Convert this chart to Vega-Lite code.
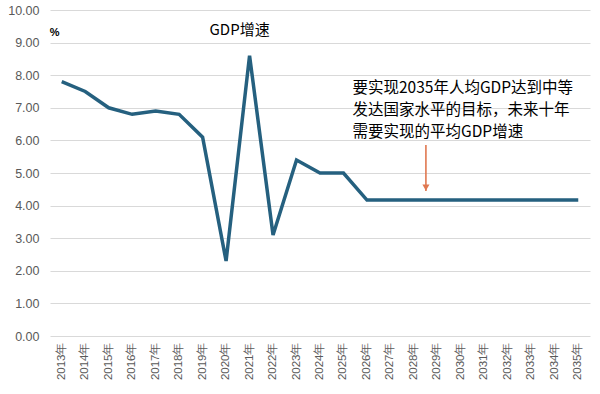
{
  "$schema": "https://vega.github.io/schema/vega-lite/v6.json",
  "width": 540,
  "height": 326,
  "autosize": "none",
  "padding": {"left": 50, "top": 10, "right": 10, "bottom": 58},
  "background": "white",
  "config": {"view": {"stroke": null}, "font": "Liberation Sans"},
  "datasets": {
    "gdp": [
      {"year": "2013年", "v": 7.8},
      {"year": "2014年", "v": 7.5},
      {"year": "2015年", "v": 7.0},
      {"year": "2016年", "v": 6.8},
      {"year": "2017年", "v": 6.9},
      {"year": "2018年", "v": 6.8},
      {"year": "2019年", "v": 6.1},
      {"year": "2020年", "v": 2.3},
      {"year": "2021年", "v": 8.6},
      {"year": "2022年", "v": 3.1},
      {"year": "2023年", "v": 5.4},
      {"year": "2024年", "v": 5.0},
      {"year": "2025年", "v": 5.0},
      {"year": "2026年", "v": 4.17},
      {"year": "2027年", "v": 4.17},
      {"year": "2028年", "v": 4.17},
      {"year": "2029年", "v": 4.17},
      {"year": "2030年", "v": 4.17},
      {"year": "2031年", "v": 4.17},
      {"year": "2032年", "v": 4.17},
      {"year": "2033年", "v": 4.17},
      {"year": "2034年", "v": 4.17},
      {"year": "2035年", "v": 4.17}
    ],
    "notes": [
      {"year": "2025年", "v": 7.62, "t": "要实现2035年人均GDP达到中等"},
      {"year": "2025年", "v": 6.94, "t": "发达国家水平的目标，未来十年"},
      {"year": "2025年", "v": 6.26, "t": "需要实现的平均GDP增速"}
    ],
    "arrow": [
      {"year": "2028年", "v": 5.86, "v2": 4.45}
    ],
    "head": [
      {"year": "2028年", "v": 4.55}
    ]
  },
  "encoding": {
    "x": {
      "field": "year",
      "type": "ordinal",
      "scale": {"paddingInner": 0, "paddingOuter": 0},
      "axis": {
        "title": null,
        "labelAngle": -90,
        "labelFontSize": 11.5,
        "labelColor": "#595959",
        "domain": false,
        "ticks": false,
        "labelPadding": 6
      }
    },
    "y": {
      "field": "v",
      "type": "quantitative",
      "scale": {"domain": [0, 10], "nice": false},
      "axis": {
        "title": null,
        "values": [0, 1, 2, 3, 4, 5, 6, 7, 8, 9, 10],
        "format": ".2f",
        "labelFontSize": 12.5,
        "labelColor": "#595959",
        "domain": false,
        "ticks": false,
        "labelPadding": 11,
        "gridColor": "#d9d9d9",
        "gridWidth": 1.2
      }
    }
  },
  "layer": [
    {
      "data": {"name": "gdp"},
      "mark": {"type": "line", "color": "#25607f", "strokeWidth": 3.5, "strokeJoin": "miter"}
    },
    {
      "data": {"name": "notes"},
      "mark": {"type": "text", "align": "left", "dx": 9, "fontSize": 15.5, "color": "#000000", "font": "Noto Sans CJK SC"},
      "encoding": {"text": {"field": "t"}}
    },
    {
      "data": {"values": [{"year": "2021年", "v": 9.4, "t": "GDP增速"}]},
      "mark": {"type": "text", "align": "center", "dx": -10, "fontSize": 15, "color": "#000000", "font": "Noto Sans CJK SC"},
      "encoding": {"text": {"field": "t"}}
    },
    {
      "data": {"values": [{"year": "2013年", "v": 9.3, "t": "%"}]},
      "mark": {"type": "text", "align": "center", "dx": -7, "fontSize": 11, "fontWeight": "bold", "color": "#000000"},
      "encoding": {"text": {"field": "t"}}
    },
    {
      "data": {"name": "arrow"},
      "mark": {"type": "rule", "color": "#e07850", "strokeWidth": 1.6, "xOffset": 12},
      "encoding": {"y2": {"field": "v2"}}
    },
    {
      "data": {"name": "head"},
      "mark": {"type": "point", "shape": "triangle-down", "filled": true, "color": "#e07850", "opacity": 1, "size": 50, "xOffset": 12}
    }
  ]
}
